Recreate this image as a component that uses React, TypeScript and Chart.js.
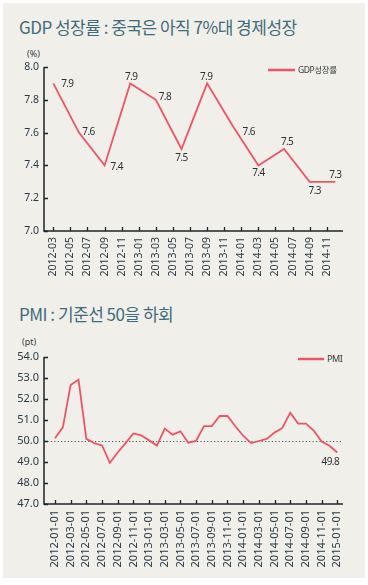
import React, { useEffect, useRef } from "react";
import { Chart, registerables } from "chart.js";

Chart.register(...registerables);

// ---------------- DATA ----------------
const gdpTitle = "GDP 성장률 : 중국은 아직 7%대 경제성장";
const gdpUnit = "(%)";
const gdpSeriesName = "GDP성장률";
const gdpQuarters = [
  "2012-03", "2012-06", "2012-09", "2012-12",
  "2013-03", "2013-06", "2013-09", "2013-12",
  "2014-03", "2014-06", "2014-09", "2014-12",
];
const gdpGrowth = [7.9, 7.6, 7.4, 7.9, 7.8, 7.5, 7.9, 7.64, 7.4, 7.5, 7.3, 7.3];
const gdpTickLabels = [
  "2012-03", "2012-05", "2012-07", "2012-09", "2012-11",
  "2013-01", "2013-03", "2013-05", "2013-07", "2013-09", "2013-11",
  "2014-01", "2014-03", "2014-05", "2014-07", "2014-09", "2014-11",
];
const gdpYTicks = [7.0, 7.2, 7.4, 7.6, 7.8, 8.0];

const pmiTitle = "PMI : 기준선 50을 하회";
const pmiUnit = "(pt)";
const pmiSeriesName = "PMI";
const pmiMonths = [
  "2012-01", "2012-02", "2012-03", "2012-04", "2012-05", "2012-06",
  "2012-07", "2012-08", "2012-09", "2012-10", "2012-11", "2012-12",
  "2013-01", "2013-02", "2013-03", "2013-04", "2013-05", "2013-06",
  "2013-07", "2013-08", "2013-09", "2013-10", "2013-11", "2013-12",
  "2014-01", "2014-02", "2014-03", "2014-04", "2014-05", "2014-06",
  "2014-07", "2014-08", "2014-09", "2014-10", "2014-11", "2014-12",
  "2015-01",
];
const pmiValues = [
  50.13, 50.65, 52.67, 52.93, 50.1, 49.9,
  49.79, 48.96, 49.45, 49.9, 50.36, 50.27,
  50.03, 49.78, 50.59, 50.3, 50.46, 49.92,
  50.0, 50.71, 50.71, 51.19, 51.19, 50.7,
  50.25, 49.9, 50.0, 50.1, 50.4, 50.62,
  51.35, 50.83, 50.83, 50.5, 49.97, 49.77,
  49.45,
];
const pmiTickLabels = [
  "2012-01-01", "2012-03-01", "2012-05-01", "2012-07-01", "2012-09-01", "2012-11-01",
  "2013-01-01", "2013-03-01", "2013-05-01", "2013-07-01", "2013-09-01", "2013-11-01",
  "2014-01-01", "2014-03-01", "2014-05-01", "2014-07-01", "2014-09-01", "2014-11-01",
  "2015-01-01",
];
const pmiYTicks = [47, 48, 49, 50, 51, 52, 53, 54];
const pmiBaseline = 50;
const pmiEndLabel = "49.8";

// ---------------- STYLE ----------------
const RED = "#ef5466";
const AXIS = "#1f262b";
const TEXT = "#2a3a46";
const TITLE = "#3f6b7b";
const NUM_FONT = '"Noto Sans", "Noto Sans CJK KR", sans-serif';

function monthIndex(s: string, base: string) {
  const [y, m] = s.split("-").map(Number);
  const [by, bm] = base.split("-").map(Number);
  return (y - by) * 12 + (m - bm);
}

const decorPlugin = {
  id: "decor",
  beforeDatasetsDraw(chart: any, _a: any, o: any) {
    if (o.baseline == null) return;
    const { ctx, chartArea } = chart;
    const y = Math.round(chart.scales.y.getPixelForValue(o.baseline)) + 0.5;
    ctx.save();
    ctx.strokeStyle = "#3a5a60";
    ctx.lineWidth = 1.2;
    ctx.setLineDash([1.2, 2.2]);
    ctx.beginPath();
    ctx.moveTo(chartArea.left, y);
    ctx.lineTo(chartArea.right, y);
    ctx.stroke();
    ctx.restore();
  },
  afterDatasetsDraw(chart: any, _a: any, o: any) {
    const { ctx, chartArea } = chart;
    const { left, right, top, bottom } = chartArea;
    const xs = chart.scales.x;
    const ys = chart.scales.y;
    ctx.save();
    // axes
    ctx.strokeStyle = AXIS;
    ctx.lineWidth = 1.5;
    ctx.beginPath();
    ctx.moveTo(left, top);
    ctx.lineTo(left, bottom);
    ctx.lineTo(right, bottom);
    ctx.stroke();
    // inward ticks
    ctx.lineWidth = 1.3;
    ctx.beginPath();
    ys.ticks.forEach((t: any) => {
      const py = Math.round(ys.getPixelForValue(t.value)) + 0.5;
      ctx.moveTo(left, py);
      ctx.lineTo(left + 4, py);
    });
    xs.ticks.forEach((t: any) => {
      const px = Math.round(xs.getPixelForValue(t.value)) + 0.5;
      ctx.moveTo(px, bottom);
      ctx.lineTo(px, bottom - 4);
    });
    ctx.stroke();

    // data labels
    const meta = chart.getDatasetMeta(0);
    const ds = chart.data.datasets[0];
    ctx.fillStyle = "#2b3236";
    ctx.font = `10px ${NUM_FONT}`;
    (ctx as any).letterSpacing = "-0.6px";
    ctx.textAlign = "center";
    ctx.textBaseline = "middle";
    if (o.offsets) {
      meta.data.forEach((pt: any, i: number) => {
        const off = o.offsets[i];
        if (!off) return;
        const v = ds.data[i].y;
        ctx.fillText(Number(v).toFixed(1), pt.x + off[0], pt.y + off[1]);
      });
    }
    if (o.endLabel) {
      const pt = meta.data[meta.data.length - 1];
      ctx.fillText(o.endLabel.text, pt.x + o.endLabel.dx, pt.y + o.endLabel.dy);
    }
    // legend
    if (o.legend) {
      const L = o.legend;
      ctx.strokeStyle = ds.borderColor;
      ctx.lineWidth = 2.5;
      ctx.beginPath();
      ctx.moveTo(L.x1, L.y);
      ctx.lineTo(L.x2, L.y);
      ctx.stroke();
      ctx.fillStyle = "#34393c";
      ctx.font = `${L.size}px ${NUM_FONT}`;
      (ctx as any).letterSpacing = "-0.4px";
      ctx.textAlign = "left";
      ctx.fillText(ds.label, L.x2 + 3, L.y + 0.5);
    }
    ctx.restore();
  },
};

function makeConfig(opts: {
  label: string;
  data: { x: number; y: number }[];
  xMin: number;
  xMax: number;
  xTicks: number[];
  xLabels: string[];
  xFont: number;
  yMin: number;
  yMax: number;
  yTicks: number[];
  yFont: number;
  padTop: number;
  xHeight: number;
  decor: any;
}) {
  return {
    type: "line" as const,
    data: {
      datasets: [
        {
          label: opts.label,
          data: opts.data,
          borderColor: RED,
          backgroundColor: RED,
          borderWidth: 1.8,
          pointRadius: 0,
          tension: 0,
          fill: false,
        },
      ],
    },
    options: {
      animation: false,
      responsive: false,
      devicePixelRatio: 1,
      layout: { padding: { top: opts.padTop, right: 25, left: 0, bottom: 0 } },
      plugins: {
        legend: { display: false },
        tooltip: { enabled: false },
        title: { display: false },
        decor: opts.decor,
      },
      scales: {
        x: {
          type: "linear",
          min: opts.xMin,
          max: opts.xMax,
          afterBuildTicks: (s: any) => {
            s.ticks = opts.xTicks.map((v) => ({ value: v }));
          },
          afterFit: (s: any) => {
            s.height = opts.xHeight;
          },
          ticks: {
            autoSkip: false,
            maxRotation: 90,
            minRotation: 90,
            padding: 6,
            color: TEXT,
            font: { family: NUM_FONT, size: opts.xFont },
            callback: (v: any) => {
              const i = opts.xTicks.indexOf(Number(v));
              return i >= 0 ? opts.xLabels[i] : "";
            },
          },
          grid: { display: false, drawTicks: false },
          border: { display: false },
        },
        y: {
          min: opts.yMin,
          max: opts.yMax,
          afterBuildTicks: (s: any) => {
            s.ticks = opts.yTicks.map((v) => ({ value: v }));
          },
          afterFit: (s: any) => {
            s.width = 44;
          },
          ticks: {
            padding: 5,
            color: TEXT,
            font: { family: NUM_FONT, size: opts.yFont },
            callback: (v: any) => Number(v).toFixed(1),
          },
          grid: { display: false, drawTicks: false },
          border: { display: false },
        },
      },
    },
    plugins: [decorPlugin],
  };
}

export default function App() {
  const gdpRef = useRef<HTMLCanvasElement | null>(null);
  const pmiRef = useRef<HTMLCanvasElement | null>(null);

  useEffect(() => {
    document.body.style.margin = "0";
    const gdpBase = gdpTickLabels[0];
    const gdpData = gdpQuarters.map((q, i) => ({ x: monthIndex(q, gdpBase), y: gdpGrowth[i] }));
    const gdpTickVals = gdpTickLabels.map((t) => monthIndex(t, gdpBase));

    const pmiBase = pmiTickLabels[0].slice(0, 7);
    const pmiData = pmiMonths.map((m, i) => ({ x: monthIndex(m, pmiBase), y: pmiValues[i] }));
    const pmiTickVals = pmiTickLabels.map((t) => monthIndex(t.slice(0, 7), pmiBase));

    const gdpChart = new Chart(
      gdpRef.current as HTMLCanvasElement,
      makeConfig({
        label: gdpSeriesName,
        data: gdpData,
        xMin: -1.09,
        xMax: 33.9,
        xTicks: gdpTickVals,
        xLabels: gdpTickLabels,
        xFont: 10.5,
        yMin: 7,
        yMax: 8,
        yTicks: gdpYTicks,
        yFont: 10.5,
        padTop: 27,
        xHeight: 59,
        decor: {
          offsets: [
            [14, 1], [9.5, 0], [12, 2], [1, -6], [9, -3], [0, 9],
            [-1, -6], [16, 6], [0, 8], [3, -7], [5, 9], [0, -7],
          ],
          legend: { x1: 268, x2: 295, y: 30, size: 8.5 },
        },
      }) as any
    );

    const pmiChart = new Chart(
      pmiRef.current as HTMLCanvasElement,
      makeConfig({
        label: pmiSeriesName,
        data: pmiData,
        xMin: -1.4,
        xMax: 36.73,
        xTicks: pmiTickVals,
        xLabels: pmiTickLabels,
        xFont: 11,
        yMin: 47,
        yMax: 54,
        yTicks: pmiYTicks,
        yFont: 11,
        padTop: 27,
        xHeight: 81,
        decor: {
          baseline: pmiBaseline,
          endLabel: { text: pmiEndLabel, dx: -7, dy: 10 },
          legend: { x1: 298, x2: 324, y: 29, size: 9 },
        },
      }) as any
    );

    return () => {
      gdpChart.destroy();
      pmiChart.destroy();
    };
  }, []);

  const titleStyle: React.CSSProperties = {
    position: "absolute",
    left: 19,
    fontFamily: '"Noto Sans CJK KR", "Noto Sans", sans-serif',
    fontSize: 17,
    lineHeight: "20px",
    letterSpacing: "-0.5px",
    color: TITLE,
    whiteSpace: "nowrap",
  };
  const unitStyle: React.CSSProperties = {
    position: "absolute",
    fontFamily: NUM_FONT,
    fontSize: 9,
    lineHeight: "12px",
    color: "#3a3f42",
    whiteSpace: "nowrap",
  };

  return (
    <div style={{ position: "relative", width: 368, height: 585, background: "#ffffff", overflow: "hidden" }}>
      <div style={{ position: "absolute", left: 3, top: 3, width: 362, height: 575, background: "#f0efea" }} />
      <div style={{ ...titleStyle, top: 17 }}>{gdpTitle}</div>
      <div style={{ ...unitStyle, left: 27, top: 48 }}>{gdpUnit}</div>
      <canvas
        ref={gdpRef}
        width={368}
        height={250}
        style={{ position: "absolute", left: 0, top: 40, width: 368, height: 250, display: "block" }}
      />
      <div style={{ ...titleStyle, top: 304 }}>{pmiTitle}</div>
      <div style={{ ...unitStyle, left: 22, top: 336 }}>{pmiUnit}</div>
      <canvas
        ref={pmiRef}
        width={368}
        height={255}
        style={{ position: "absolute", left: 0, top: 330, width: 368, height: 255, display: "block" }}
      />
    </div>
  );
}
